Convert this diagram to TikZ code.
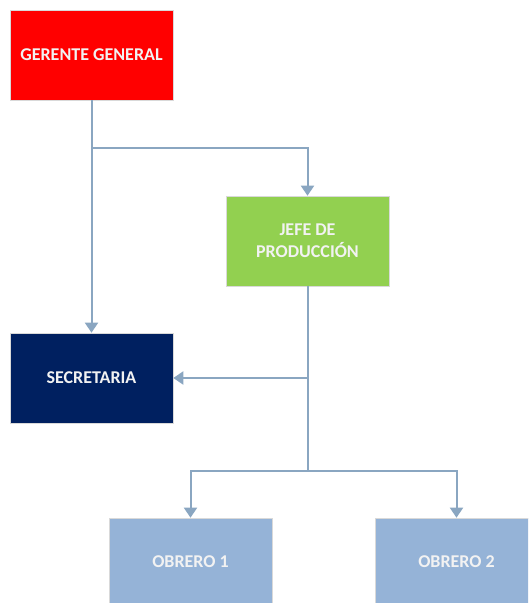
\documentclass[tikz,border=0pt]{standalone}
\usepackage{fontspec}
\setmainfont{Carlito}
\usetikzlibrary{arrows.meta}
\definecolor{ggred}{HTML}{FF0000}
\definecolor{jpgreen}{HTML}{92D050}
\definecolor{secnavy}{HTML}{002060}
\definecolor{obblue}{HTML}{95B3D7}
\definecolor{linkblue}{HTML}{8AA6C1}
\definecolor{boxtext}{HTML}{F2F2F2}
\begin{document}
\begin{tikzpicture}[x=1pt,y=-1pt,
  orgbox/.style={draw=white!85!black,line width=0.6pt,minimum width=163pt,minimum height=90pt,
    inner sep=0pt,align=center,text=boxtext,font=\fontsize{18}{22}\selectfont\bfseries},
  link/.style={draw=linkblue,line width=2pt},
  arrowlink/.style={link,-{Triangle[length=10pt,width=13pt]}}]
\useasboundingbox (0,0) rectangle (528,603);
\begin{scope}
\clip (0,0) rectangle (528,603);
\node[orgbox,fill=ggred] (gg) at (91.5,55) {GERENTE GENERAL};
\node[orgbox,fill=jpgreen] (jp) at (307.5,241) {JEFE DE\\PRODUCCIÓN};
\node[orgbox,fill=secnavy] (sec) at (91.5,378) {SECRETARIA};
\node[orgbox,fill=obblue,minimum height=88pt] (ob1) at (190.5,562) {OBRERO 1};
\node[orgbox,fill=obblue,minimum height=88pt] (ob2) at (456.5,562) {OBRERO 2};
\coordinate (split) at (91.5,148);
\coordinate (join) at (307.5,378);
\coordinate (fork) at (307.5,471);
\draw[arrowlink] (gg.south) -- (sec.north);
\draw[arrowlink] (split) -| (jp.north);
\draw[link] (jp.south) -- (fork);
\draw[arrowlink] (join) -- (sec.east);
\draw[arrowlink] (fork) -| (ob1.north);
\draw[arrowlink] (fork) -| (ob2.north);
\end{scope}
\end{tikzpicture}
\end{document}
